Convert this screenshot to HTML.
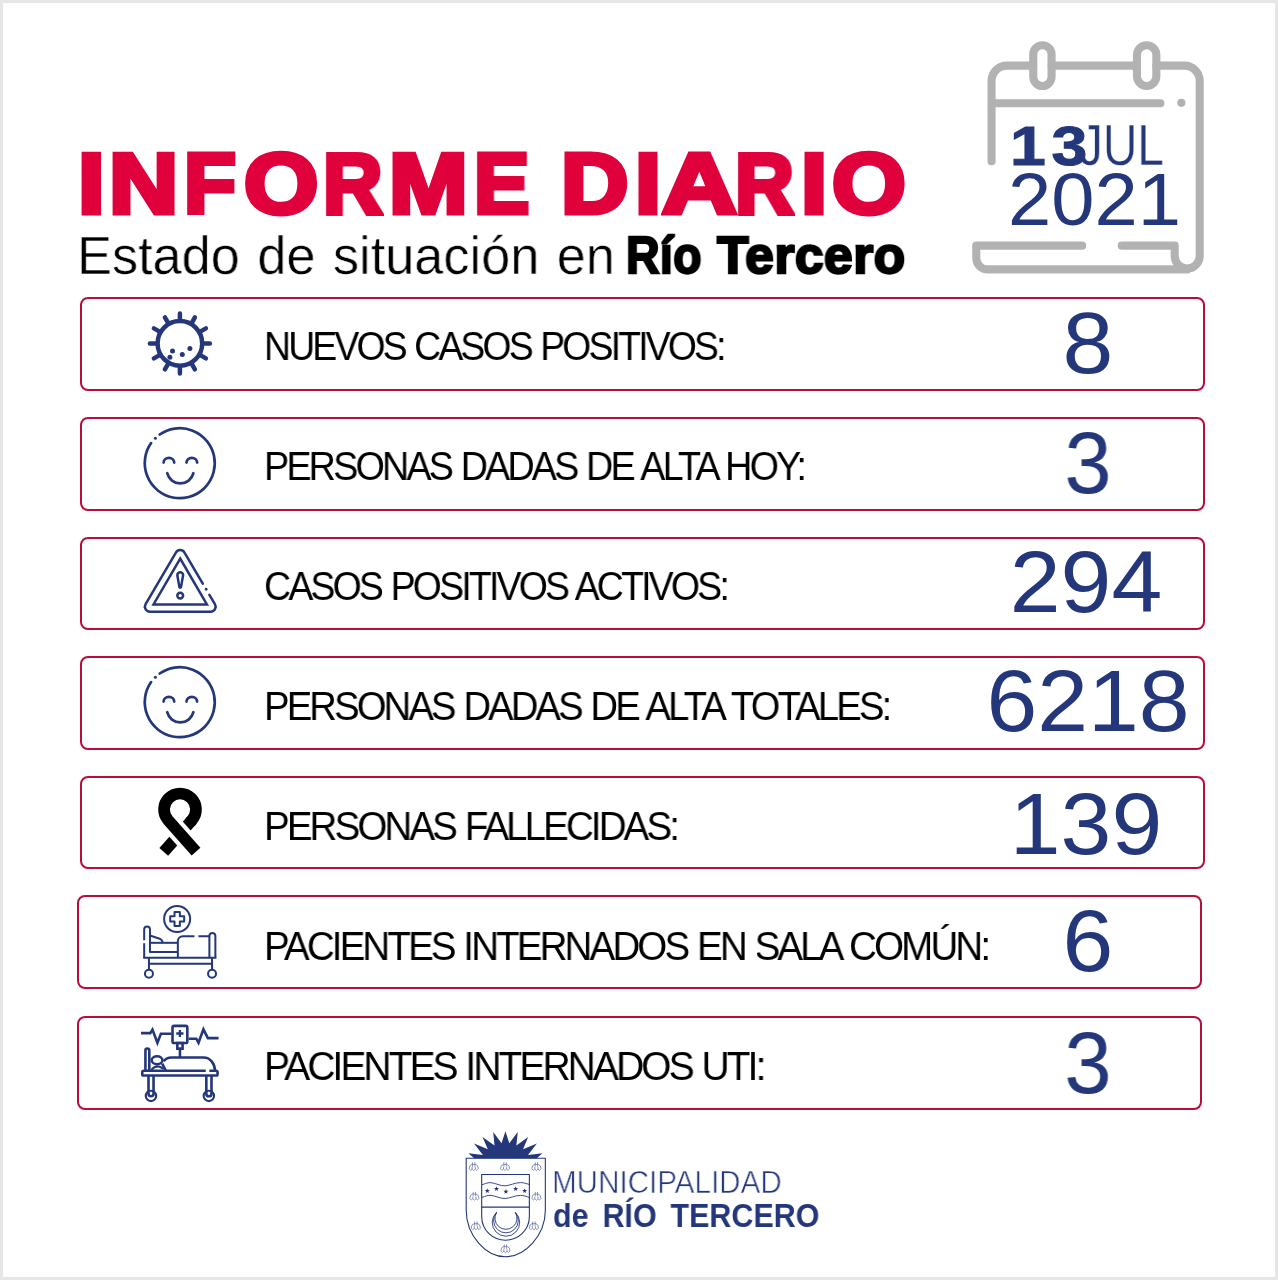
<!DOCTYPE html>
<html lang="es">
<head>
<meta charset="utf-8">
<title>Informe Diario - Río Tercero</title>
<style>
html,body{margin:0;padding:0;background:#fff;}
body{width:1278px;height:1280px;overflow:hidden;font-family:"Liberation Sans",sans-serif;}
#page{position:relative;width:1278px;height:1280px;box-sizing:border-box;border:3px solid #e6e6e6;background:#fff;overflow:hidden;}
.abs{will-change:transform;position:absolute;white-space:nowrap;line-height:1;margin:0;padding:0;transform-origin:0 0;}
#title{left:0;top:137.9px;width:940px;height:85px;font-size:85px;font-weight:bold;color:#e0003c;-webkit-text-stroke:5px #e0003c;}
#title span{will-change:transform;position:absolute;top:0;transform-origin:0 0;}
#sub{left:73.6px;top:225.5px;font-size:53.5px;color:#000;font-weight:normal;transform:scaleX(0.9775);word-spacing:3px;-webkit-text-stroke:0.5px #fff;}
#subb{left:0;top:225.6px;width:940px;height:53px;font-size:52.5px;color:#000;font-weight:bold;-webkit-text-stroke:2.3px #000;letter-spacing:0.4px;}
#subb span{will-change:transform;position:absolute;top:0;transform-origin:0 0;}
#sb1{left:623px;transform:scaleX(0.885);}
#sb2{left:714.4px;transform:scaleX(0.985);}
.row{position:absolute;box-sizing:border-box;border:2px solid #b90c3a;border-radius:8px;background:#fff;}
.lbl{will-change:transform;position:absolute;white-space:nowrap;line-height:1;font-size:40px;color:#000;transform-origin:0 0;letter-spacing:-3px;word-spacing:2px;}
.num{will-change:transform;position:absolute;white-space:nowrap;line-height:1;font-size:87px;color:#24377a;transform-origin:50% 0;text-align:center;width:300px;transform:scaleX(1.05);}
.ico{position:absolute;overflow:visible;}
.dt{color:#24377a;}
#d13{left:1007px;top:115.8px;font-size:55.5px;font-weight:bold;z-index:2;letter-spacing:5px;transform:scaleX(1.16);-webkit-text-stroke:1px #24377a;}
#djul{left:1076px;top:114.5px;font-size:56.5px;transform:scaleX(0.845);-webkit-text-stroke:0.3px #fff;}
#d2021{left:1005px;top:160.3px;font-size:74px;transform:scaleX(1.051);}
#muni{left:548.8px;top:1164.3px;font-size:31px;color:#24377a;transform:scaleX(0.955);-webkit-text-stroke:0.6px #fff;}
#rio{left:549.6px;top:1196.2px;font-size:33.5px;font-weight:bold;color:#24377a;transform:scaleX(0.909);word-spacing:6px;}
</style>
</head>
<body>
<div id="page">
<header>
<h1 id="title" class="abs"><span style="left:74.9px;transform:scaleX(1.129)">I</span><span style="left:105.6px;transform:scaleX(1.127)">N</span><span style="left:181.0px;transform:scaleX(1.0)">F</span><span style="left:240.9px;transform:scaleX(1.123)">O</span><span style="left:319.5px;transform:scaleX(0.969)">R</span><span style="left:385.7px;transform:scaleX(1.112)">M</span><span style="left:470.6px;transform:scaleX(0.975)">E</span><span style="left:535px;transform:scaleX(1)"> </span><span style="left:557.7px;transform:scaleX(1.098)">D</span><span style="left:631.7px;transform:scaleX(1.1)">I</span><span style="left:659.2px;transform:scaleX(1.217)">A</span><span style="left:732.1px;transform:scaleX(0.959)">R</span><span style="left:798.2px;transform:scaleX(1.106)">I</span><span style="left:828.7px;transform:scaleX(1.116)">O</span></h1>
<p id="sub" class="abs">Estado de situación en</p>
<p id="subb" class="abs"><span id="sb1">Río</span> <span id="sb2">Tercero</span></p>
<div id="date">
<svg class="ico" id="cal" style="left:957px;top:27px" width="260" height="260" viewBox="960 30 260 260" >
<g fill="none" stroke="#b2b2b2" stroke-width="8.1" stroke-linecap="round" stroke-linejoin="round"><path d="M991.54 161.2V80.86A15.26 15.26 0 0 1 1006.8 65.6H1033.2M1051.6 65.6H1137M1156.3 65.6H1184.44A15.26 15.26 0 0 1 1199.7 80.86V256A12.5 12.5 0 0 1 1174.7 256V245.67H1121.75"/><path d="M1082.08 245.67H976.28V257.9A11.5 11.5 0 0 0 987.78 269.4H1187.2"/><path d="M994 103.25H1160.4"/><rect x="1033.25" y="45.26" width="18.31" height="40.69" rx="9.15"/><rect x="1137" y="45.26" width="19.34" height="40.69" rx="9.6"/></g><circle cx="1181.36" cy="102.84" r="4.1" fill="#b2b2b2"/>
</svg>
<span id="d13" class="abs dt">13</span><span id="djul" class="abs dt">JUL</span><span id="d2021" class="abs dt">2021</span>
</div>
</header>
<main>
<div class="row" id="r1" style="left:77px;top:294px;width:1125px;height:94px;">
<svg class="ico" id="i1" style="left:48px;top:1px" width="100" height="90" viewBox="130 300 100 90" >
<g fill="none" stroke="#24377a" stroke-width="4.5" stroke-linecap="round"><circle cx="179.9" cy="343.4" r="22.3"/><path d="M204.4 343.4L209.9 343.4M201.1 355.6L205.9 358.4M192.2 364.6L194.9 369.4M179.9 367.9L179.9 373.4M167.7 364.6L164.9 369.4M158.7 355.6L153.9 358.4M155.4 343.4L149.9 343.4M158.7 331.1L153.9 328.4M167.7 322.2L164.9 317.4M179.9 318.9L179.9 313.4M192.2 322.2L194.9 317.4M201.1 331.1L205.9 328.4"/></g>
<g fill="#24377a"><circle cx="172.5" cy="350.9" r="2.5"/><circle cx="169.9" cy="357.2" r="2.5"/><circle cx="182.3" cy="354.6" r="2.5"/><circle cx="189.9" cy="348.4" r="2.5"/></g>
</svg>
<span class="lbl" id="l1" style="left:182px;top:27px;transform:scaleX(0.9326);">NUEVOS CASOS POSITIVOS:</span>
<span class="num" id="n1" style="left:855.5px;top:0px;">8</span>
</div>
<div class="row" id="r2" style="left:77px;top:414px;width:1125px;height:94px;">
<svg class="ico" id="i2" style="left:48px;top:1px" width="100" height="90" viewBox="130 420 100 90" >
<g transform="translate(0.4 0)"><g fill="none" stroke="#24377a" stroke-width="2.7" stroke-linecap="round"><path d="M159.3 434.5A35 35 0 1 1 150.7 443.1"/><path d="M163.2 462.6A5.3 4.7 0 0 1 173.8 462.6"/><path d="M186.1 462.6A5.3 4.7 0 0 1 196.7 462.6"/><path d="M166.8 473.2A13.5 13.5 0 0 0 193 473.2"/></g><circle cx="155" cy="438.2" r="1.5" fill="#24377a"/></g>
</svg>
<span class="lbl" id="l2" style="left:182px;top:27px;transform:scaleX(0.9435);">PERSONAS DADAS DE ALTA HOY:</span>
<span class="num" id="n2" style="left:855.7px;top:-0.2px;transform:scaleX(0.975);">3</span>
</div>
<div class="row" id="r3" style="left:77px;top:534px;width:1125px;height:93px;">
<svg class="ico" id="i3" style="left:48px;top:1px" width="100" height="90" viewBox="130 540 100 90" >
<g fill="none" stroke="#24377a" stroke-width="2.5" stroke-linecap="round" stroke-linejoin="miter"><path d="M209.38 594.78L214.91 604.16A5.0 5.0 0 0 1 210.60 611.70L149.90 611.70A5.0 5.0 0 0 1 145.59 604.17L175.89 552.57A5.0 5.0 0 0 1 184.51 552.56L202.78 583.58"/><path d="M180.2 558.6L153.5 604.4L206.9 604.4Z"/><path d="M177.3 575.2A2.9 2.9 0 0 1 183.1 575.2L181 587.1A0.85 0.85 0 0 1 179.4 587.1Z" stroke-linejoin="round"/><circle cx="180.2" cy="595.6" r="2.9"/></g><circle cx="206.13" cy="589.27" r="1.4" fill="#24377a"/>
</svg>
<span class="lbl" id="l3" style="left:181.5px;top:27px;transform:scaleX(0.9365);">CASOS POSITIVOS ACTIVOS:</span>
<span class="num" id="n3" style="left:854.2px;top:-0.6px;">294</span>
</div>
<div class="row" id="r4" style="left:77px;top:653px;width:1125px;height:94px;">
<svg class="ico" id="i4" style="left:48px;top:1px" width="100" height="90" viewBox="130 659 100 90" >
<g transform="translate(0.4 0)"><g fill="none" stroke="#24377a" stroke-width="2.7" stroke-linecap="round"><path d="M159.3 673.5A35 35 0 1 1 150.7 682.1"/><path d="M163.2 701.6A5.3 4.7 0 0 1 173.8 701.6"/><path d="M186.1 701.6A5.3 4.7 0 0 1 196.7 701.6"/><path d="M166.8 712.2A13.5 13.5 0 0 0 193 712.2"/></g><circle cx="155" cy="677.2" r="1.5" fill="#24377a"/></g>
</svg>
<span class="lbl" id="l4" style="left:182px;top:28px;transform:scaleX(0.9564);">PERSONAS DADAS DE ALTA TOTALES:</span>
<span class="num" id="n4" style="left:855.5px;top:-0.7px;">6218</span>
</div>
<div class="row" id="r5" style="left:77px;top:773px;width:1125px;height:93px;">
<svg class="ico" id="i5" style="left:48px;top:2px" width="100" height="90" viewBox="130 780 100 90" >
<g fill="none" stroke-linecap="butt" stroke-linejoin="round"><path d="M191.97 820.04L163.75 851.94" stroke="#000" stroke-width="11.7"/><path d="M168.07 820.04L198.02 853.89" stroke="#fff" stroke-width="20.1"/><path d="M196.03 851.64L168.07 820.04A15.96 15.96 0 1 1 191.97 820.04L189.99 822.28" stroke="#000" stroke-width="11.7"/></g>
</svg>
<span class="lbl" id="l5" style="left:182px;top:27.6px;transform:scaleX(0.9633);">PERSONAS FALLECIDAS:</span>
<span class="num" id="n5" style="left:853.9px;top:1.8px;">139</span>
</div>
<div class="row" id="r6" style="left:74px;top:892px;width:1125px;height:94px;">
<svg class="ico" id="i6" style="left:51px;top:3px" width="100" height="90" viewBox="130 900 100 90" >
<g fill="none" stroke="#24377a" stroke-width="2" stroke-linecap="butt" stroke-linejoin="round"><circle cx="177.12" cy="918.99" r="13"/><path d="M174.53 911.95H179.84V916.27H184.16V921.58H179.84V925.9H174.53V921.58H170.21V916.27H174.53Z"/><path d="M144.18 940.2V929.45A2.89 2.89 0 0 1 149.96 929.45V952.12H177.85"/><path d="M144.18 943.2V957.77"/><path d="M149.96 935.5L159.6 938.7Q162.2 939.8 162.9 942.8"/><path d="M149.96 942.83H177.85"/><path d="M177.85 957.77V941.2A5 5 0 0 1 182.85 936.19H194.45M198.43 936.19H209.39"/><path d="M209.39 957.77V935.87A3 3 0 0 1 215.37 935.87V957.77"/><path d="M143.19 957.77H216.36M148.96 963.75H212.05M148.96 957.77V969.7M212.05 957.77V969.7"/><circle cx="148.96" cy="973.71" r="4"/><circle cx="212.05" cy="973.71" r="4"/></g>
</svg>
<span class="lbl" id="l6" style="left:185px;top:29px;transform:scaleX(0.9638);">PACIENTES INTERNADOS EN SALA COMÚN:</span>
<span class="num" id="n6" style="left:858.5px;top:0.4px;">6</span>
</div>
<div class="row" id="r7" style="left:74px;top:1013px;width:1125px;height:94px;">
<svg class="ico" id="i7" style="left:51px;top:-3px" width="100" height="90" viewBox="130 1015 100 90" >
<g fill="none" stroke="#24377a" stroke-width="2.6" stroke-linecap="butt" stroke-linejoin="miter"><path d="M140.96 1033.15H150.3L152.46 1029.6L157.4 1042.8L160.9 1033.81H171.53"/><path d="M188.62 1038.74H196.3L198.49 1042.8L203.42 1029.3L207.9 1038.08H218.54"/><rect x="172.52" y="1025.92" width="14.79" height="17.09" rx="1.6"/><path d="M177.32 1043H182.58V1048.6H177.32ZM179.95 1048.6V1057.5"/><path d="M145.43 1070.6V1050.4A1.94 1.94 0 0 1 149.31 1050.4V1070.6"/><ellipse cx="157.07" cy="1060.24" rx="5.4" ry="3.95"/><path d="M151.4 1069.8Q157 1063.4 163.3 1068.9" stroke-width="2.2"/><path d="M162.2 1063.6L165.7 1070.6"/><path d="M163.8 1061.2Q166.5 1057.48 171.5 1057.48H203.75A11.2 13.1 0 0 1 214.92 1070.6"/><path d="M205.72 1070.82H143.57A1.3 1.3 0 0 0 142.27 1072.12V1074.25A1.3 1.3 0 0 0 143.57 1075.55H216.25A1.3 1.3 0 0 0 217.55 1074.25V1072.12A1.3 1.3 0 0 0 216.25 1070.82H209.34"/><path d="M148.5 1075.55V1093.7A2.52 2.52 0 0 0 153.54 1093.7V1075.55"/><path d="M206.32 1075.55V1093.7A2.58 2.58 0 0 0 211.49 1093.7V1075.55"/><circle cx="150.97" cy="1095.9" r="5.2" stroke-width="2.1"/><circle cx="208.84" cy="1095.9" r="5.2" stroke-width="2.1"/></g><path d="M176.28 1032.33H178.73V1029.88H181.03V1032.33H183.48V1034.63H181.03V1037.08H178.73V1034.63H176.28Z" fill="#24377a"/>
</svg>
<span class="lbl" id="l7" style="left:185px;top:27.6px;transform:scaleX(0.9739);">PACIENTES INTERNADOS UTI:</span>
<span class="num" id="n7" style="left:858.9px;top:0.6px;transform:scaleX(0.98);">3</span>
</div>
</main>
<footer>
<svg class="ico" id="shield" style="left:452px;top:1122px" width="110" height="140" viewBox="455 1125 110 140" >
<path d="M474.08 1158.3L468.45 1153.17L482.89 1155.0L474.08 1143.45L487.82 1149.3L482.54 1136.97L494.51 1145.42L493.24 1131.9L501.55 1143.31L505.42 1131.2L509.3 1143.31L517.75 1131.9L516.34 1145.42L528.17 1136.97L523.03 1149.3L536.9 1143.45L527.96 1155.0L542.39 1153.17L536.76 1158.3Z" fill="#24377a"/><g fill="none" stroke="#24377a" stroke-width="1.1"><path d="M466.2 1158.2H545.35V1210.3C545.35 1236.3 524.08 1256.76 505.42 1256.76C486.76 1256.76 466.2 1236.3 466.2 1210.3Z"/><path d="M481.69 1174.5H529.37V1216.6C529.37 1230.7 517.75 1240.2 505.5 1240.2C493.1 1240.2 481.69 1230.7 481.69 1216.6Z"/><path d="M481.69 1207.1H529.37"/></g><g fill="none" stroke="#24377a" stroke-width="0.9"><path d="M481.69 1184.9C486 1183.4 488 1182.4 491 1182.7C496 1183.2 500 1186 505.07 1185.8C510 1185.6 515 1182.6 520.5 1182.6C524 1182.6 526.5 1183.6 529.37 1184.5"/><path d="M481.69 1197.5C486 1196 488 1195.1 491 1195.4C496 1195.9 500 1198.7 505.07 1198.5C510 1198.3 515 1195.4 520.5 1195.4C524 1195.4 526.5 1196.5 529.37 1197.5"/><path d="M496.62 1212.39A13.73 13.73 0 1 0 515.28 1212.39A11.03 11.03 0 1 1 496.62 1212.39Z"/><path d="M496.62 1212.39A12.35 12.35 0 1 0 515.28 1212.39"/></g><g fill="#24377a"><polygon points="487.32,1188.15 487.95,1189.98 489.89,1190.02 488.35,1191.18 488.91,1193.03 487.32,1191.93 485.73,1193.03 486.29,1191.18 484.75,1190.02 486.69,1189.98"/><polygon points="496.48,1186.24 497.11,1188.07 499.05,1188.11 497.51,1189.27 498.07,1191.12 496.48,1190.02 494.89,1191.12 495.45,1189.27 493.91,1188.11 495.85,1188.07"/><polygon points="505.92,1188.85 506.55,1190.68 508.49,1190.72 506.95,1191.88 507.51,1193.73 505.92,1192.63 504.33,1193.73 504.89,1191.88 503.35,1190.72 505.29,1190.68"/><polygon points="515.63,1186.24 516.26,1188.07 518.20,1188.11 516.66,1189.27 517.22,1191.12 515.63,1190.02 514.04,1191.12 514.60,1189.27 513.06,1188.11 515.00,1188.07"/><polygon points="524.65,1188.15 525.28,1189.98 527.22,1190.02 525.68,1191.18 526.24,1193.03 524.65,1191.93 523.06,1193.03 523.62,1191.18 522.08,1190.02 524.02,1189.98"/></g><g fill="none" stroke="#24377a" stroke-width="0.7" opacity="0.75"><path d="M469.13 1168.85Q468.93 1165.05 472.53000000000003 1164.05M478.33000000000004 1168.85Q478.53000000000003 1165.05 474.93 1164.05M469.13 1168.85Q470.63 1171.85 472.13 1169.05Q473.73 1172.05 475.33000000000004 1169.05Q476.83000000000004 1171.85 478.33000000000004 1168.85M472.53000000000003 1162.25V1166.65M474.93 1162.25V1166.65M472.53000000000003 1164.45H474.93M472.13 1169.05V1167.05M475.33000000000004 1169.05V1167.05"/><path d="M500.46999999999997 1168.85Q500.27 1165.05 503.87 1164.05M509.67 1168.85Q509.87 1165.05 506.27 1164.05M500.46999999999997 1168.85Q501.96999999999997 1171.85 503.46999999999997 1169.05Q505.07 1172.05 506.67 1169.05Q508.17 1171.85 509.67 1168.85M503.87 1162.25V1166.65M506.27 1162.25V1166.65M503.87 1164.45H506.27M503.46999999999997 1169.05V1167.05M506.67 1169.05V1167.05"/><path d="M531.81 1168.85Q531.61 1165.05 535.2099999999999 1164.05M541.01 1168.85Q541.2099999999999 1165.05 537.61 1164.05M531.81 1168.85Q533.31 1171.85 534.81 1169.05Q536.41 1172.05 538.01 1169.05Q539.51 1171.85 541.01 1168.85M535.2099999999999 1162.25V1166.65M537.61 1162.25V1166.65M535.2099999999999 1164.45H537.61M534.81 1169.05V1167.05M538.01 1169.05V1167.05"/><path d="M469.79999999999995 1198.5Q469.59999999999997 1194.7 473.2 1193.7M479.0 1198.5Q479.2 1194.7 475.59999999999997 1193.7M469.79999999999995 1198.5Q471.29999999999995 1201.5 472.79999999999995 1198.7Q474.4 1201.7 476.0 1198.7Q477.5 1201.5 479.0 1198.5M473.2 1191.9V1196.3000000000002M475.59999999999997 1191.9V1196.3000000000002M473.2 1194.1000000000001H475.59999999999997M472.79999999999995 1198.7V1196.7M476.0 1198.7V1196.7"/><path d="M531.81 1198.5Q531.61 1194.7 535.2099999999999 1193.7M541.01 1198.5Q541.2099999999999 1194.7 537.61 1193.7M531.81 1198.5Q533.31 1201.5 534.81 1198.7Q536.41 1201.7 538.01 1198.7Q539.51 1201.5 541.01 1198.5M535.2099999999999 1191.9V1196.3000000000002M537.61 1191.9V1196.3000000000002M535.2099999999999 1194.1000000000001H537.61M534.81 1198.7V1196.7M538.01 1198.7V1196.7"/><path d="M471.25 1228.08Q471.05 1224.28 474.65000000000003 1223.28M480.45000000000005 1228.08Q480.65000000000003 1224.28 477.05 1223.28M471.25 1228.08Q472.75 1231.08 474.25 1228.28Q475.85 1231.28 477.45000000000005 1228.28Q478.95000000000005 1231.08 480.45000000000005 1228.08M474.65000000000003 1221.48V1225.88M477.05 1221.48V1225.88M474.65000000000003 1223.68H477.05M474.25 1228.28V1226.28M477.45000000000005 1228.28V1226.28"/><path d="M529.34 1228.08Q529.1400000000001 1224.28 532.74 1223.28M538.5400000000001 1228.08Q538.74 1224.28 535.1400000000001 1223.28M529.34 1228.08Q530.84 1231.08 532.34 1228.28Q533.94 1231.28 535.5400000000001 1228.28Q537.0400000000001 1231.08 538.5400000000001 1228.08M532.74 1221.48V1225.88M535.1400000000001 1221.48V1225.88M532.74 1223.68H535.1400000000001M532.34 1228.28V1226.28M535.5400000000001 1228.28V1226.28"/><path d="M500.82 1250.9699999999998Q500.62 1247.1699999999998 504.22 1246.1699999999998M510.02000000000004 1250.9699999999998Q510.22 1247.1699999999998 506.62 1246.1699999999998M500.82 1250.9699999999998Q502.32 1253.9699999999998 503.82 1251.1699999999998Q505.42 1254.1699999999998 507.02000000000004 1251.1699999999998Q508.52000000000004 1253.9699999999998 510.02000000000004 1250.9699999999998M504.22 1244.37V1248.77M506.62 1244.37V1248.77M504.22 1246.57H506.62M503.82 1251.1699999999998V1249.1699999999998M507.02000000000004 1251.1699999999998V1249.1699999999998"/></g>
</svg>
<span id="muni" class="abs">MUNICIPALIDAD</span>
<span id="rio" class="abs">de RÍO TERCERO</span>
</footer>
</div>
</body>
</html>
